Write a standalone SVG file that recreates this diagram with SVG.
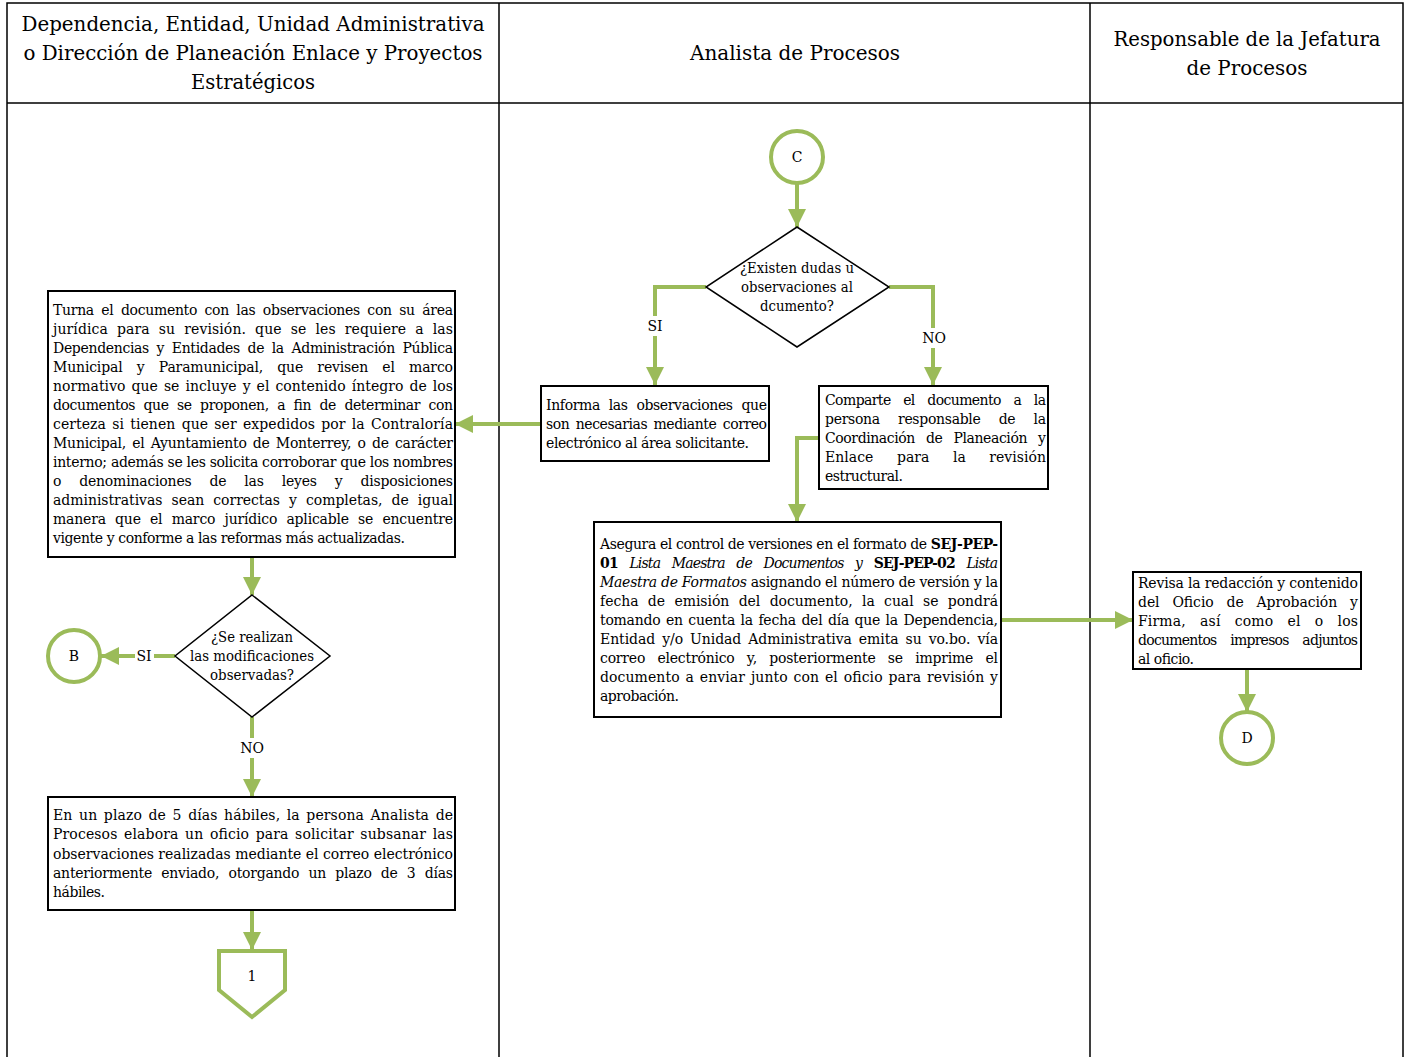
<svg xmlns="http://www.w3.org/2000/svg" width="1408" height="1057" viewBox="0 0 1408 1057">
  <style>
    .lane { fill: none; stroke: #000; stroke-width: 1.5; }
    .hdr { font-family: "DejaVu Serif", "Liberation Serif", serif; font-size: 19.5px; fill: #000; }
    .box { fill: #fff; stroke: #000; stroke-width: 2; }
    .t { font-family: "DejaVu Serif", "Liberation Serif", serif; font-size: 14px; fill: #000; }
    .c { text-anchor: middle; }
    .dia { fill: #fff; stroke: #000; stroke-width: 1.5; }
    .con { fill: #fff; stroke: #9BBB59; stroke-width: 4; }
    .flow { fill: none; stroke: #9BBB59; stroke-width: 4; marker-end: url(#arr); }
    .lbl { font-family: "DejaVu Serif", "Liberation Serif", serif; font-size: 14px; fill: #000; text-anchor: middle; }
    .b { font-weight: bold; }
    .i { font-style: italic; }
  </style>
  <defs>
    <marker id="arr" markerUnits="userSpaceOnUse" markerWidth="18" markerHeight="18" refX="18" refY="9" orient="auto">
      <path d="M0,0 L18,9 L0,18 z" fill="#9BBB59"/>
    </marker>
  </defs>

  <rect width="1408" height="1057" fill="#fff"/>

  <!-- swimlane frame -->
  <g id="lanes">
    <path class="lane" d="M7,1057 L7,3 L1403,3 L1403,1057 M7,103 L1403,103 M499,3 L499,1057 M1090,3 L1090,1057"/>
    <text class="hdr c" x="253" y="31" textLength="463" lengthAdjust="spacingAndGlyphs">Dependencia, Entidad, Unidad Administrativa</text>
    <text class="hdr c" x="253" y="60" textLength="459" lengthAdjust="spacingAndGlyphs">o Dirección de Planeación Enlace y Proyectos</text>
    <text class="hdr c" x="253" y="89" textLength="124" lengthAdjust="spacingAndGlyphs">Estratégicos</text>
    <text class="hdr c" x="795" y="60" textLength="210" lengthAdjust="spacingAndGlyphs">Analista de Procesos</text>
    <text class="hdr c" x="1247" y="46" textLength="267" lengthAdjust="spacingAndGlyphs">Responsable de la Jefatura</text>
    <text class="hdr c" x="1247" y="75" textLength="121" lengthAdjust="spacingAndGlyphs">de Procesos</text>
  </g>

  <!-- connectors -->
  <g id="connectors">
    <path class="flow" d="M797,183 L797,227"/>
    <path class="flow" d="M706,287 L655,287 L655,385"/>
    <path class="flow" d="M889,287 L933,287 L933,385"/>
    <path class="flow" d="M541,424 L455,424"/>
    <path class="flow" d="M819,438 L797,438 L797,522"/>
    <path class="flow" d="M1001,620 L1133,620"/>
    <path class="flow" d="M1247,669 L1247,712"/>
    <path class="flow" d="M252,557 L252,595"/>
    <path class="flow" d="M175,656 L101,656"/>
    <path class="flow" d="M252,717 L252,797"/>
    <path class="flow" d="M252,910 L252,950"/>
    <rect x="645" y="316" width="20" height="20" fill="#fff"/>
    <text class="lbl" x="655" y="331">SI</text>
    <rect x="920" y="328" width="28" height="20" fill="#fff"/>
    <text class="lbl" x="934" y="343">NO</text>
    <rect x="135" y="646" width="19" height="20" fill="#fff"/>
    <text class="lbl" x="144" y="661">SI</text>
    <rect x="238" y="738" width="28" height="20" fill="#fff"/>
    <text class="lbl" x="252" y="753">NO</text>
  </g>

  <g id="start-c">
    <circle class="con" cx="797" cy="157" r="26"/>
    <text class="t c" x="797" y="162" font-size="13">C</text>
  </g>

  <g id="decision-dudas">
    <polygon class="dia" points="797,227 889,287 797,347 706,287"/>
    <text class="t c" x="797" y="273" textLength="114" lengthAdjust="spacingAndGlyphs">¿Existen dudas u</text>
    <text class="t c" x="797" y="292" textLength="112" lengthAdjust="spacingAndGlyphs">observaciones al</text>
    <text class="t c" x="797" y="311" textLength="74" lengthAdjust="spacingAndGlyphs">dcumento?</text>
  </g>

  <g id="informa">
    <rect class="box" x="541" y="386" width="228" height="75"/>
    <text class="t" x="546" y="410" textLength="221" lengthAdjust="spacing" word-spacing="4.7">Informa las observaciones que</text>
    <text class="t" x="546" y="429" textLength="221" lengthAdjust="spacing" word-spacing="2.3">son necesarias mediante correo</text>
    <text class="t" x="546" y="448" textLength="203" lengthAdjust="spacing">electrónico al área solicitante.</text>
  </g>

  <g id="comparte">
    <rect class="box" x="819" y="386" width="229" height="103"/>
    <text class="t" x="825" y="405" textLength="221" lengthAdjust="spacing" word-spacing="8.7">Comparte el documento a la</text>
    <text class="t" x="825" y="424" textLength="221" lengthAdjust="spacing" word-spacing="14">persona responsable de la</text>
    <text class="t" x="825" y="443" textLength="221" lengthAdjust="spacing" word-spacing="7">Coordinación de Planeación y</text>
    <text class="t" x="825" y="462" textLength="221" lengthAdjust="spacing" word-spacing="19">Enlace para la revisión</text>
    <text class="t" x="825" y="481" textLength="78" lengthAdjust="spacing">estructural.</text>
  </g>

  <g id="asegura">
    <rect class="box" x="594" y="522" width="407" height="195"/>
    <text class="t" x="600" y="549" textLength="398" lengthAdjust="spacing">Asegura el control de versiones en el formato de <tspan class="b">SEJ-PEP-</tspan></text>
    <text class="t" x="600" y="568" textLength="398" lengthAdjust="spacing" word-spacing="8"><tspan class="b">01</tspan> <tspan class="i">Lista Maestra de Documentos y</tspan> <tspan class="b">SEJ-PEP-02</tspan> <tspan class="i">Lista</tspan></text>
    <text class="t" x="600" y="587" textLength="398" lengthAdjust="spacing"><tspan class="i">Maestra de Formatos</tspan> asignando el número de versión y la</text>
    <text class="t" x="600" y="606" textLength="398" lengthAdjust="spacing" word-spacing="5">fecha de emisión del documento, la cual se pondrá</text>
    <text class="t" x="600" y="625" textLength="398" lengthAdjust="spacing" word-spacing="1.3">tomando en cuenta la fecha del día que la Dependencia,</text>
    <text class="t" x="600" y="644" textLength="398" lengthAdjust="spacing" word-spacing="2.7">Entidad y/o Unidad Administrativa emita su vo.bo. vía</text>
    <text class="t" x="600" y="663" textLength="398" lengthAdjust="spacing" word-spacing="8">correo electrónico y, posteriormente se imprime el</text>
    <text class="t" x="600" y="682" textLength="398" lengthAdjust="spacing" word-spacing="1.3">documento a enviar junto con el oficio para revisión y</text>
    <text class="t" x="600" y="701" textLength="79" lengthAdjust="spacing">aprobación.</text>
  </g>

  <g id="revisa">
    <rect class="box" x="1133" y="572" width="228" height="97"/>
    <text class="t" x="1138" y="588" textLength="220" lengthAdjust="spacing">Revisa la redacción y contenido</text>
    <text class="t" x="1138" y="607" textLength="220" lengthAdjust="spacing" word-spacing="8.5">del Oficio de Aprobación y</text>
    <text class="t" x="1138" y="626" textLength="220" lengthAdjust="spacing" word-spacing="9.6">Firma, así como el o los</text>
    <text class="t" x="1138" y="645" textLength="220" lengthAdjust="spacing" word-spacing="10">documentos impresos adjuntos</text>
    <text class="t" x="1138" y="664" textLength="56" lengthAdjust="spacing">al oficio.</text>
  </g>

  <g id="end-d">
    <circle class="con" cx="1247" cy="738" r="26"/>
    <text class="t c" x="1247" y="743" font-size="13">D</text>
  </g>

  <g id="turna">
    <rect class="box" x="48" y="291" width="407" height="266"/>
    <text class="t" x="53" y="315" textLength="400" lengthAdjust="spacing" word-spacing="3.3">Turna el documento con las observaciones con su área</text>
    <text class="t" x="53" y="334" textLength="400" lengthAdjust="spacing" word-spacing="4.5">jurídica para su revisión. que se les requiere a las</text>
    <text class="t" x="53" y="353" textLength="400" lengthAdjust="spacing" word-spacing="3.5">Dependencias y Entidades de la Administración Pública</text>
    <text class="t" x="53" y="372" textLength="400" lengthAdjust="spacing" word-spacing="10">Municipal y Paramunicipal, que revisen el marco</text>
    <text class="t" x="53" y="391" textLength="400" lengthAdjust="spacing" word-spacing="1.5">normativo que se incluye y el contenido íntegro de los</text>
    <text class="t" x="53" y="410" textLength="400" lengthAdjust="spacing" word-spacing="4.4">documentos que se proponen, a fin de determinar con</text>
    <text class="t" x="53" y="429" textLength="400" lengthAdjust="spacing" word-spacing="1.7">certeza si tienen que ser expedidos por la Contraloría</text>
    <text class="t" x="53" y="448" textLength="400" lengthAdjust="spacing" word-spacing="2">Municipal, el Ayuntamiento de Monterrey, o de carácter</text>
    <text class="t" x="53" y="467" textLength="400" lengthAdjust="spacing">interno; además se les solicita corroborar que los nombres</text>
    <text class="t" x="53" y="486" textLength="400" lengthAdjust="spacing" word-spacing="13.7">o denominaciones de las leyes y disposiciones</text>
    <text class="t" x="53" y="505" textLength="400" lengthAdjust="spacing" word-spacing="4.7">administrativas sean correctas y completas, de igual</text>
    <text class="t" x="53" y="524" textLength="400" lengthAdjust="spacing" word-spacing="5">manera que el marco jurídico aplicable se encuentre</text>
    <text class="t" x="53" y="543" textLength="352" lengthAdjust="spacing">vigente y conforme a las reformas más actualizadas.</text>
  </g>

  <g id="decision-modificaciones">
    <polygon class="dia" points="252,595 330,656 252,717 175,656"/>
    <text class="t c" x="252" y="642" textLength="82" lengthAdjust="spacingAndGlyphs">¿Se realizan</text>
    <text class="t c" x="252" y="661" textLength="124" lengthAdjust="spacingAndGlyphs">las modificaciones</text>
    <text class="t c" x="252" y="680" textLength="84" lengthAdjust="spacingAndGlyphs">observadas?</text>
  </g>

  <g id="connector-b">
    <circle class="con" cx="74" cy="656" r="26"/>
    <text class="t c" x="74" y="661" font-size="13">B</text>
  </g>

  <g id="plazo">
    <rect class="box" x="48" y="797" width="407" height="113"/>
    <text class="t" x="53" y="820" textLength="400" lengthAdjust="spacing" word-spacing="2">En un plazo de 5 días hábiles, la persona Analista de</text>
    <text class="t" x="53" y="839" textLength="400" lengthAdjust="spacing" word-spacing="2">Procesos elabora un oficio para solicitar subsanar las</text>
    <text class="t" x="53" y="859" textLength="400" lengthAdjust="spacing">observaciones realizadas mediante el correo electrónico</text>
    <text class="t" x="53" y="878" textLength="400" lengthAdjust="spacing" word-spacing="5">anteriormente enviado, otorgando un plazo de 3 días</text>
    <text class="t" x="53" y="897" textLength="52" lengthAdjust="spacing">hábiles.</text>
  </g>

  <g id="offpage-1">
    <polygon class="con" points="219,951 285,951 285,990 252,1017 219,990"/>
    <text class="t c" x="252" y="981" font-size="10">1</text>
  </g>
</svg>
